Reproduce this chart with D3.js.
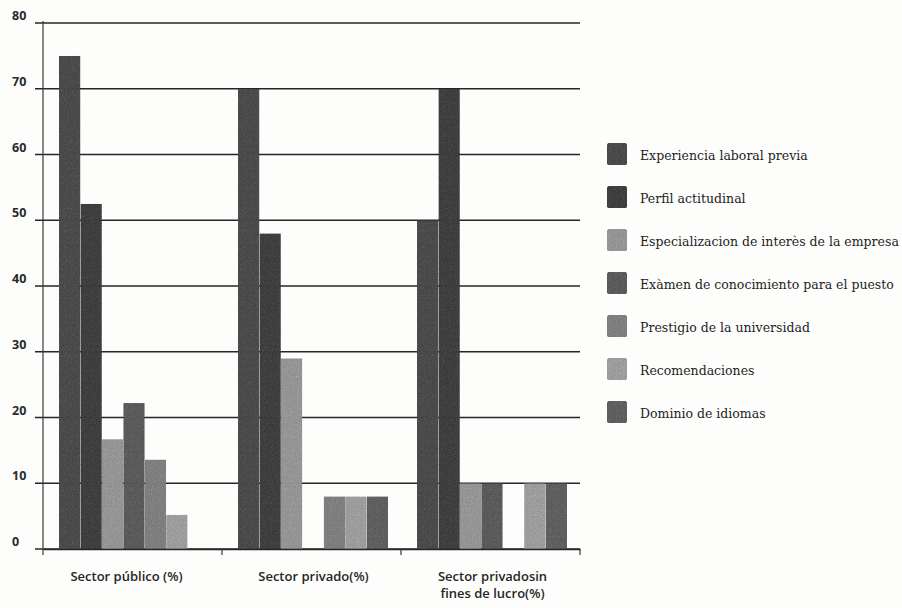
<!DOCTYPE html>
<html>
<head>
<meta charset="utf-8">
<script src="https://cdn.jsdelivr.net/npm/d3@7"></script>
<style>
  html, body { margin: 0; padding: 0; background: #fdfdfc; }
  svg { display: block; }
</style>
</head>
<body>
<svg id="chart" width="902" height="608"></svg>
<script>
// Sectors on the x axis
const categories = ["Sector público (%)", "Sector privado(%)", "Sector privadosin\nfines de lucro(%)"];

// Selection criteria (one bar per criterion inside each sector)
const series = [
  "Experiencia laboral previa",
  "Perfil actitudinal",
  "Especializacion de interès de la empresa",
  "Exàmen de conocimiento para el puesto",
  "Prestigio de la universidad",
  "Recomendaciones",
  "Dominio de idiomas"
];

// Percentages per criterion, in sector order (0 = no bar)
const experiencia     = [75, 70, 50];
const perfil          = [52.5, 48, 70];
const especializacion = [16.7, 29, 10];
const examen          = [22.2, 0, 10];
const prestigio       = [13.6, 8, 0];
const recomendaciones = [5.2, 8, 10];
const idiomas         = [0, 8, 10];

const yTicks = [0, 10, 20, 30, 40, 50, 60, 70, 80];

const values = [experiencia, perfil, especializacion, examen, prestigio, recomendaciones, idiomas];
const shades = ["#5a5a5a", "#4e4e4e", "#a4a4a4", "#6a6a6a", "#8e8e8e", "#acacac", "#6e6e6e"];

const svg = d3.select("#chart");

// grainy printed-ink texture for the filled marks
const defs = svg.append("defs");
const grain = defs.append("filter").attr("id", "grain")
  .attr("x", 0).attr("y", 0).attr("width", 1).attr("height", 1)
  .attr("color-interpolation-filters", "sRGB");
grain.append("feTurbulence").attr("type", "fractalNoise").attr("baseFrequency", 0.85).attr("numOctaves", 2).attr("seed", 7).attr("result", "noise");
grain.append("feColorMatrix").attr("in", "noise").attr("type", "saturate").attr("values", 0).attr("result", "gray");
grain.append("feComposite").attr("in", "SourceGraphic").attr("in2", "gray").attr("operator", "arithmetic")
  .attr("k1", 0).attr("k2", 1).attr("k3", 0.3).attr("k4", -0.15).attr("result", "mix");
grain.append("feComposite").attr("in", "mix").attr("in2", "SourceAlpha").attr("operator", "in");

const plot = { left: 43, right: 580, top: 23, bottom: 549 };

const x = d3.scaleBand().domain(categories).range([plot.left, plot.right]).paddingInner(0).paddingOuter(0);
const xInner = d3.scaleBand().domain(series).range([16, x.bandwidth() - 13]).padding(0);
const y = d3.scaleLinear().domain([0, 80]).range([plot.bottom, plot.top]);

// horizontal gridlines (also act as the y tick marks, starting left of the axis)
svg.append("g")
  .selectAll("line")
  .data(yTicks)
  .join("line")
  .attr("x1", plot.left - 8)
  .attr("x2", plot.right)
  .attr("y1", d => y(d))
  .attr("y2", d => y(d))
  .attr("stroke", "#262626")
  .attr("stroke-width", 1.4);

// y tick labels
svg.append("g")
  .selectAll("text")
  .data(yTicks)
  .join("text")
  .attr("x", 12)
  .attr("y", d => y(d) - 3)
  .attr("font-family", "'Open Sans', sans-serif")
  .attr("font-weight", 700)
  .attr("font-size", 12.5)
  .attr("fill", "#2a2a2a")
  .text(d => d);

// bars
const groups = svg.append("g")
  .selectAll("g")
  .data(categories)
  .join("g")
  .attr("transform", d => `translate(${x(d)},0)`);

groups.selectAll("rect")
  .data((c, ci) => series.map((s, si) => ({ s, si, v: values[si][ci] })).filter(d => d.v > 0))
  .join("rect")
  .attr("x", d => xInner(d.s))
  .attr("width", xInner.bandwidth())
  .attr("y", d => y(d.v))
  .attr("height", d => y(0) - y(d.v))
  .attr("fill", d => shades[d.si])
  .attr("filter", "url(#grain)");

// y axis line
svg.append("line")
  .attr("x1", plot.left).attr("x2", plot.left)
  .attr("y1", y(80) - 2).attr("y2", plot.bottom + 6)
  .attr("stroke", "#3a3a3a").attr("stroke-width", 1.2);

// x axis with category boundary ticks
const xAxis = d3.axisBottom(x).tickSize(0).tickFormat("");
const xg = svg.append("g").attr("transform", `translate(0,${plot.bottom})`).call(xAxis);
xg.select(".domain").attr("stroke", "#262626").attr("stroke-width", 1.4);
xg.selectAll(".tick").remove();
const bounds = categories.map(c => x(c)).concat([x(categories[categories.length - 1]) + x.bandwidth()]);
xg.selectAll("line.bound")
  .data(bounds.slice(1))
  .join("line")
  .attr("class", "bound")
  .attr("x1", d => d).attr("x2", d => d)
  .attr("y1", 0).attr("y2", 6)
  .attr("stroke", "#3a3a3a").attr("stroke-width", 1.2);

// category labels
const catLabels = svg.append("g")
  .selectAll("text")
  .data(categories)
  .join("text")
  .attr("x", d => x(d) + x.bandwidth() / 2 + (d === categories[0] ? -6 : 2))
  .attr("y", 581)
  .attr("text-anchor", "middle")
  .attr("font-family", "'Open Sans', sans-serif")
  .attr("font-weight", 600)
  .attr("font-size", 13)
  .attr("fill", "#262626");
catLabels.each(function (d) {
  const lines = d.split("\n");
  const t = d3.select(this);
  lines.forEach((ln, i) => {
    t.append("tspan")
      .attr("x", t.attr("x"))
      .attr("dy", i === 0 ? 0 : 17)
      .text(ln);
  });
});

// legend
const legend = svg.append("g").attr("transform", "translate(607,143)");
const item = legend.selectAll("g")
  .data(series)
  .join("g")
  .attr("transform", (d, i) => `translate(0,${i * 43})`);
item.append("rect")
  .attr("width", 20)
  .attr("height", 22)
  .attr("rx", 1.5)
  .attr("fill", (d, i) => shades[i])
  .attr("filter", "url(#grain)");
item.append("text")
  .attr("x", 33)
  .attr("y", 17)
  .attr("font-family", "'DejaVu Serif', serif")
  .attr("font-size", 12.5)
  .attr("fill", "#1e1e1e")
  .text(d => d);
</script>
</body>
</html>
